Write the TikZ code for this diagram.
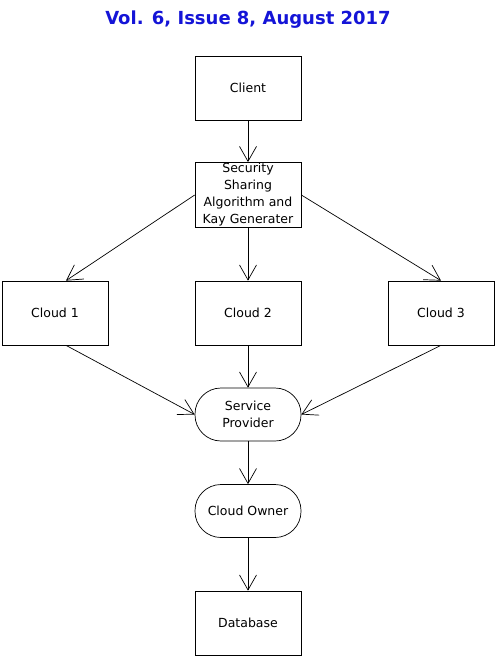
\documentclass[tikz,border=0pt]{standalone}
\usepackage{fontspec}
\setmainfont{DejaVu Sans}
\usetikzlibrary{arrows.meta}
\definecolor{titleblue}{RGB}{20,20,215}
\begin{document}
\begin{tikzpicture}[x=1pt,y=1pt,
  box/.style={draw,line width=0.7pt,minimum width=106pt,minimum height=64pt,inner sep=1pt,
    font=\fontsize{12.5}{17}\selectfont,align=center},
  pill/.style={draw,line width=0.7pt,minimum width=106pt,minimum height=53pt,rounded corners=26pt,
    font=\fontsize{12.5}{17}\selectfont,align=center},
  arr/.style={line width=0.7pt,-{Straight Barb[length=15pt,width=17pt,line width=0.7pt]}}]
\useasboundingbox (0,0) rectangle (496,-658);
\node[text=titleblue,font=\fontsize{18}{20}\bfseries\selectfont] (title) at (248,-20) {Vol. 6, Issue 8, August 2017};
\node[box] (client) at (248,-88) {Client};
\node[box] (sec) at (248,-195) {Security\\Sharing\\Algorithm and\\Kay Generater};
\node[box] (c1) at (55,-313) {Cloud 1};
\node[box] (c2) at (248,-313) {Cloud 2};
\node[box] (c3) at (441,-313) {Cloud 3};
\node[pill] (sp) at (248,-414.5) {Service\\Provider};
\node[pill] (owner) at (248,-511) {Cloud Owner};
\node[box] (db) at (248,-623) {Database};
\draw[arr] (client) -- (sec);
\draw[arr] (sec.west) -- ([xshift=11pt]c1.north);
\draw[arr] (sec) -- (c2);
\draw[arr] (sec.east) -- (c3.north);
\draw[arr] ([xshift=11pt]c1.south) -- (sp.west);
\draw[arr] (c2) -- (sp);
\draw[arr] (c3.south) -- (sp.east);
\draw[arr] (sp) -- (owner);
\draw[arr] (owner) -- (db);
\end{tikzpicture}
\end{document}
